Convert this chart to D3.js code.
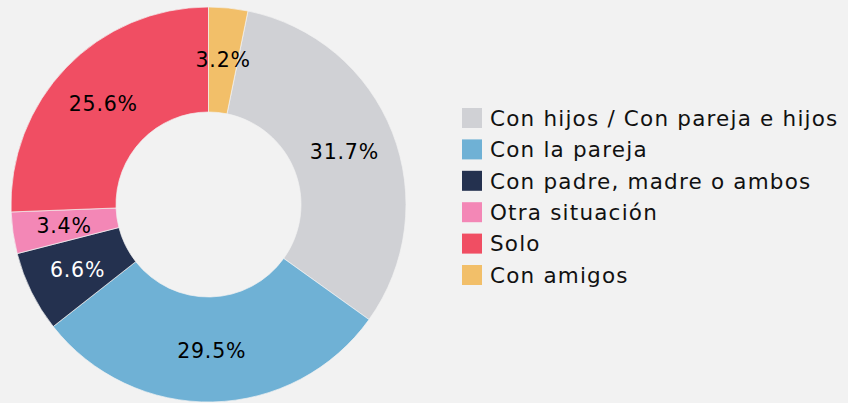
<!DOCTYPE html>
<html><head><meta charset="utf-8">
<script src="https://cdn.jsdelivr.net/npm/d3@7"></script>
<style>html,body{margin:0;padding:0;background:#f2f2f2;}svg{display:block;}</style>
</head><body>
<svg id="c" width="848" height="403"></svg>
<script>
const categories = ["Con hijos / Con pareja e hijos","Con la pareja","Con padre, madre o ambos","Otra situación","Solo","Con amigos"];
const values = [31.7, 29.5, 6.6, 3.4, 25.6, 3.2];
const colors = ["#d0d1d5","#6fb1d5","#24314f","#f387b6","#f04e63","#f2bf69"];
const labelColors = ["#000","#000","#fff","#000","#000","#000"];

const svg = d3.select("#c");
const cx = 208.5, cy = 204.5, rOuter = 197.5, rInner = 92.5;
const total = d3.sum(values);
const start = 2*Math.PI*values[values.length-1]/total;
const pie = d3.pie().sort(null).startAngle(start).endAngle(start+2*Math.PI);
const arcs = pie(values);
const arc = d3.arc().innerRadius(rInner).outerRadius(rOuter);
const labelArc = d3.arc().innerRadius(146).outerRadius(146);
const g = svg.append("g").attr("transform",`translate(${cx},${cy})`);
g.selectAll("path").data(arcs).join("path")
  .attr("d",arc).attr("fill",(d,i)=>colors[i])
  .attr("stroke","#f2f2f2").attr("stroke-width",0.7);
g.selectAll("text").data(arcs).join("text")
  .attr("transform",d=>`translate(${labelArc.centroid(d)})`)
  .attr("text-anchor","middle").attr("dy","0.36em")
  .attr("font-family","'DejaVu Sans', sans-serif").attr("font-size",20.5)
  .attr("letter-spacing",0.8)
  .attr("fill",(d,i)=>labelColors[i])
  .text(d=>d3.format(".1f")(d.data)+"%");

const leg = svg.append("g").attr("transform","translate(462,108)");
const rows = leg.selectAll("g").data(categories).join("g")
  .attr("transform",(d,i)=>`translate(0,${i*31.4})`);
rows.append("rect").attr("width",20).attr("height",20).attr("fill",(d,i)=>colors[i]);
rows.append("text").attr("x",28).attr("y",10).attr("dy","0.36em")
  .attr("font-family","'DejaVu Sans', sans-serif").attr("font-size",21.5).attr("fill","#111")
  .attr("letter-spacing",1.2)
  .text(d=>d);
</script>
</body></html>
